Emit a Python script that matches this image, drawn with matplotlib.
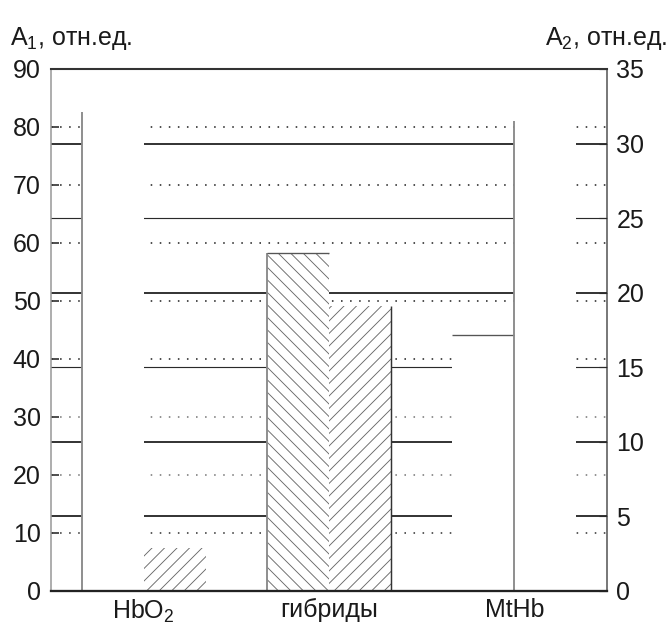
import matplotlib
matplotlib.use('Agg')
import matplotlib.pyplot as plt
import numpy as np

# ---- data ----
groups = ['HbO$_2$', 'гибриды', 'MtHb']
a1_values = [82.5, 58.3, 44.2]      # left axis, A1
a2_values = [2.9, 19.1, 31.5]       # right axis, A2
a1_hatch = ['', '\\\\', '']
a2_hatch = ['//', '//', '']
a1_ticks = [0, 10, 20, 30, 40, 50, 60, 70, 80, 90]
a2_ticks = [0, 5, 10, 15, 20, 25, 30, 35]
a1_label = 'A$_1$, отн.ед.'
a2_label = 'A$_2$, отн.ед.'
A1_MAX, A2_MAX = 90, 35

# which edges of each bar are visible in the original
a1_edges = [('left',), ('left', 'top'), ('top',)]
a2_edges = [(), ('right',), ('left',)]

plt.rcParams['font.family'] = ['Liberation Sans', 'DejaVu Sans']
plt.rcParams['mathtext.default'] = 'regular'
plt.rcParams['hatch.linewidth'] = 0.85

FS = 24
DPI = 75
fig = plt.figure(figsize=(667 / DPI, 640 / DPI), dpi=DPI)
ax = fig.add_axes([0.0765, 0.0766, 0.8336, 0.8156])
ax.set_xlim(-0.5, 2.5)
ax.set_ylim(0, A1_MAX)


def to_a2(v):
    return np.asarray(v) * A2_MAX / A1_MAX


def to_a1(v):
    return np.asarray(v) * A1_MAX / A2_MAX


# grid lines: dotted for A1 ticks, solid for A2 ticks
dot_colors = {10: '#333333', 20: '#777777', 30: '#777777'}
for t in a1_ticks[1:-1]:
    ax.axhline(t, color=dot_colors.get(t, '#222222'), lw=1.5,
               ls=(0, (1, 4.8)), zorder=1)
thin = {15, 25}
for t in a2_ticks[1:-1]:
    ax.axhline(to_a1(t), color='#2a2a2a', lw=1.1 if t in thin else 1.8,
               zorder=1)

x = np.arange(len(groups))
w = 0.335
b1 = ax.bar(x - w / 2, a1_values, w, facecolor='white', edgecolor='#666666',
            linewidth=0, zorder=2)
b2 = ax.bar(x + w / 2, to_a1(a2_values), w, facecolor='white',
            edgecolor='#666666', linewidth=0, zorder=2)
for p, h in zip(b1.patches, a1_hatch):
    p.set_hatch(h)
for p, h in zip(b2.patches, a2_hatch):
    p.set_hatch(h)


def draw_edges(patches, edges):
    for p, e in zip(patches, edges):
        x0, x1 = p.get_x(), p.get_x() + p.get_width()
        h = p.get_height()
        for side in e:
            if side == 'left':
                ax.plot([x0, x0], [0, h], color='#8a8a8a', lw=1.8, zorder=3,
                        solid_capstyle='butt')
            elif side == 'right':
                ax.plot([x1, x1], [0, h], color='#333333', lw=1.4, zorder=3,
                        solid_capstyle='butt')
            elif side == 'top':
                ax.plot([x0, x1], [h, h], color='#555555', lw=1.3, zorder=3,
                        solid_capstyle='butt')


draw_edges(b1.patches, a1_edges)
draw_edges(b2.patches, a2_edges)

# spines
ax.spines['top'].set_color('#333333')
ax.spines['top'].set_linewidth(2.0)
ax.spines['bottom'].set_color('#222222')
ax.spines['bottom'].set_linewidth(2.2)
ax.spines['left'].set_color('#999999')
ax.spines['left'].set_linewidth(1.5)
ax.spines['right'].set_visible(False)
for s in ax.spines.values():
    s.set_zorder(4)

ax.set_yticks(a1_ticks)
ax.tick_params(axis='y', direction='in', length=7.5, width=1.5,
               color='#222222', labelsize=FS, pad=10, labelcolor='#1a1a1a')
ax.set_xticks(x, groups)
ax.tick_params(axis='x', length=0, labelsize=FS, pad=7, labelcolor='#1a1a1a')

sec = ax.secondary_yaxis('right', functions=(to_a2, to_a1))
sec.set_yticks(a2_ticks)
sec.tick_params(axis='y', direction='in', length=7.5, width=1.1,
                color='#2a2a2a', labelsize=FS, pad=9, labelcolor='#1a1a1a')
sec.spines['right'].set_color('#555555')
sec.spines['right'].set_linewidth(1.5)

fig.text(10 / 667, 1 - 39 / 640, a1_label, fontsize=FS, va='center',
         ha='left', color='#1a1a1a')
fig.text(667 / 667, 1 - 39 / 640, a2_label, fontsize=FS, va='center',
         ha='right', color='#1a1a1a')

fig.savefig('out.png', dpi=DPI)
